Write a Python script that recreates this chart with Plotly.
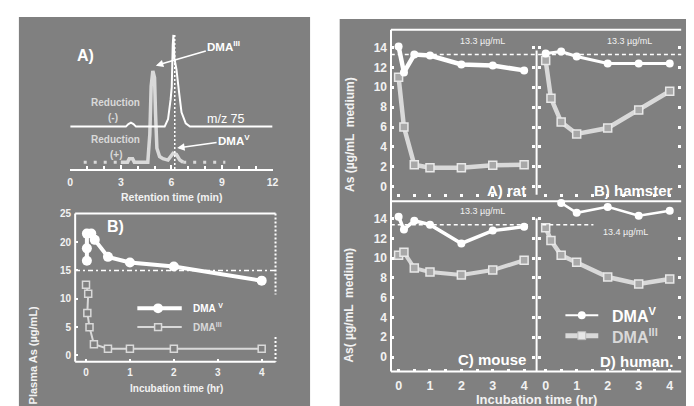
import plotly.graph_objects as go

W, H = 694, 406
BG = "#808080"
LIGHT = "#d9d9d9"
TXT = "#f2f2f2"
FONT = "Liberation Sans, Arial, sans-serif"

# ---------------- Panel A: chromatograms (retention time, min / relative intensity) ----------------
red_minus_t = [0, 3.3, 3.45, 3.6, 3.75, 3.9, 5.6, 5.8, 5.95, 6.02, 6.08, 6.12, 6.18, 6.3, 6.45, 6.6, 6.85, 7.1, 12]
red_minus_i = [30.7, 30.7, 32.5, 33.5, 32.5, 30.7, 30.7, 36, 50, 59, 90, 97, 80, 72, 56, 41, 33, 30.7, 30.7]
red_plus_t = [3.0, 3.4, 3.5, 3.7, 3.8, 4.6, 4.72, 4.8, 4.9, 5.0, 5.06, 5.14, 5.3, 5.5, 5.8, 6.0, 6.1, 6.3, 6.5, 6.7]
red_plus_i = [5, 5, 7.5, 7.5, 5, 5, 25, 60, 71, 66, 40, 15, 9, 7.5, 6.5, 10, 11.4, 10.5, 6.5, 5]
red_plus_base_t = [0.8, 3.0, None, 6.7, 9.2]
red_plus_base_i = [5, 5, None, 5, 5]
dma3_rt = [6.2, 6.2]
dma3_rt_i = [0, 97]
a_ticks = [0, 3, 6, 9, 12]

# ---------------- Panel B: plasma (incubation time, hr / ug/mL) ----------------
b_dmav_t = [0.02, 0.02, 0.02, 0.12, 0.2, 0.5, 1.0, 2.0, 4.0]
b_dmav_y = [16.7, 18.9, 21.5, 21.5, 20.4, 17.4, 16.4, 15.7, 13.2]
b_dma3_t = [0.0, 0.05, 0.03, 0.08, 0.18, 0.5, 1.0, 2.0, 4.0]
b_dma3_y = [12.5, 10.9, 7.5, 5.0, 2.0, 1.2, 1.2, 1.2, 1.2]
b_ref = 15
b_xticks = [0, 1, 2, 3, 4]
b_yticks = [0, 5, 10, 15, 20, 25]

# ---------------- Right panels: hepatocyte medium ----------------
t7 = [0, 0.17, 0.5, 1, 2, 3, 4]
rat_v = [14.1, 11.5, 13.3, 13.2, 12.3, 12.2, 11.7]
rat_iii = [11.0, 6.0, 2.2, 1.9, 1.9, 2.15, 2.2]
ham_v_t = [0, 0.5, 1, 2, 3, 4]
ham_v = [13.4, 13.6, 13.1, 12.4, 12.4, 12.4]
ham_iii = [12.7, 8.9, 6.5, 5.3, 5.9, 7.7, 9.6]
mou_v = [14.2, 12.9, 13.8, 13.4, 11.5, 12.8, 13.2]
mou_iii = [10.3, 10.6, 9.0, 8.6, 8.3, 8.8, 9.8]
hum_v_t = [0.5, 1, 2, 3, 4]
hum_v = [15.6, 14.6, 15.2, 14.3, 14.8]
hum_iii = [13.1, 11.8, 10.3, 9.6, 8.1, 7.4, 7.9]
ref_rat, ref_ham, ref_mou, ref_hum = 13.3, 13.3, 13.4, 13.4
r_xticks = [0, 1, 2, 3, 4]
r_xminor = [0, 0.5, 1, 1.5, 2, 2.5, 3, 3.5, 4]
r_yticks = [0, 2, 4, 6, 8, 10, 12, 14]


def fx(px):
    return px / W


def fy(py):
    return 1 - py / H


def tf(size, color=TXT):
    return dict(family=FONT, size=size, color=color, weight="bold")


fig = go.Figure()

# Panel A traces
fig.add_trace(go.Scatter(x=red_plus_base_t, y=red_plus_base_i, mode="lines",
                         line=dict(color=LIGHT, width=3, dash="3px,7px"), xaxis="x", yaxis="y"))
fig.add_trace(go.Scatter(x=red_plus_t, y=red_plus_i, mode="lines",
                         line=dict(color=LIGHT, width=3.5), xaxis="x", yaxis="y"))
fig.add_trace(go.Scatter(x=red_minus_t, y=red_minus_i, mode="lines",
                         line=dict(color="white", width=2), xaxis="x", yaxis="y"))
fig.add_trace(go.Scatter(x=dma3_rt, y=dma3_rt_i, mode="lines",
                         line=dict(color="white", width=1.5, dash="2px,2px"), xaxis="x", yaxis="y"))

# Panel B traces
fig.add_trace(go.Scatter(x=[-0.25, 4.32], y=[b_ref, b_ref], mode="lines",
                         line=dict(color="white", width=1.5, dash="5px,3px,2px,3px"), xaxis="x2", yaxis="y2"))
fig.add_trace(go.Scatter(x=b_dma3_t, y=b_dma3_y, mode="lines+markers",
                         line=dict(color=LIGHT, width=2),
                         marker=dict(symbol="square", size=7, color=BG, line=dict(color=LIGHT, width=1.5)),
                         cliponaxis=False, xaxis="x2", yaxis="y2"))
fig.add_trace(go.Scatter(x=b_dmav_t, y=b_dmav_y, mode="lines+markers",
                         line=dict(color="white", width=4),
                         marker=dict(symbol="circle", size=10, color="white"),
                         cliponaxis=False, xaxis="x2", yaxis="y2"))

# Right panels
panels = [
    ("x3", "y3", t7, rat_iii, t7, rat_v, 4.5, 4.5),
    ("x4", "y4", t7, ham_iii, ham_v_t, ham_v, 4.5, 3),
    ("x5", "y5", t7, mou_iii, t7, mou_v, 4, 3.5),
    ("x6", "y6", t7, hum_iii, hum_v_t, hum_v, 4.5, 2.5),
]
for xa, ya, ti, yi, tv, yv, w3, wv in panels:
    fig.add_trace(go.Scatter(x=ti, y=yi, mode="lines+markers",
                             line=dict(color=LIGHT, width=w3),
                             marker=dict(symbol="square", size=8, color="#a8a8a8", line=dict(color="#e8e8e8", width=1.5)),
                             cliponaxis=False, xaxis=xa, yaxis=ya))
    fig.add_trace(go.Scatter(x=tv, y=yv, mode="lines+markers",
                             line=dict(color="white", width=wv),
                             marker=dict(symbol="circle", size=8, color="white"),
                             cliponaxis=False, xaxis=xa, yaxis=ya))

# reference dashed lines (13.3 / 13.4 ug/mL)
dash_ref = dict(color="white", width=1.5, dash="4px,3px")
fig.add_trace(go.Scatter(x=[-0.25, 4.4], y=[ref_rat, ref_rat], mode="lines", line=dash_ref, xaxis="x3", yaxis="y3"))
fig.add_trace(go.Scatter(x=[-0.25, 4.4], y=[ref_ham, ref_ham], mode="lines", line=dash_ref, xaxis="x4", yaxis="y4"))
fig.add_trace(go.Scatter(x=[-0.25, 4.2], y=[ref_mou, ref_mou], mode="lines", line=dash_ref, xaxis="x5", yaxis="y5"))
fig.add_trace(go.Scatter(x=[-0.11, 1.54], y=[ref_hum, ref_hum], mode="lines", line=dash_ref, xaxis="x6", yaxis="y6"))

common = dict(showgrid=False, zeroline=False, fixedrange=True)
tick_in = dict(ticks="inside", tickcolor="white")

layout = dict(
    width=W, height=H, margin=dict(l=0, r=0, t=0, b=0),
    paper_bgcolor="white", plot_bgcolor="rgba(0,0,0,0)", showlegend=False,
    # Panel A
    xaxis=dict(domain=[fx(60), fx(265)], range=[0, 12], anchor="y", showline=True, linecolor="white",
               linewidth=2, tickvals=a_ticks, ticklen=4, tickwidth=1.5, tickfont=tf(10.5),
               ticklabelstandoff=2,
               minor=dict(tickvals=list(range(13)), ticks="inside", ticklen=3, tickcolor="white", tickwidth=1.5),
               **tick_in, **common),
    yaxis=dict(domain=[fy(158), fy(18)], range=[0, 100], anchor="x", visible=False, **common),
    # Panel B
    xaxis2=dict(domain=[fx(65), fx(268)], range=[-0.247, 4.315], anchor="y2", showline=False,
                tickvals=b_xticks, ticklen=3, tickwidth=2, tickfont=tf(10), ticklabelstandoff=3,
                **tick_in, **common),
    yaxis2=dict(domain=[fy(353), fy(203)], range=[-1.09, 25.05], anchor="x2", showline=False,
                tickvals=b_yticks, ticklen=3, tickwidth=2, tickfont=tf(10), ticklabelstandoff=3,
                **tick_in, **common),
    # rat
    xaxis3=dict(domain=[fx(385), fx(531)], range=[-0.242, 4.35], anchor="y3", showline=False,
                tickvals=r_xminor, showticklabels=False, ticklen=3, tickwidth=2.5, **tick_in, **common),
    yaxis3=dict(domain=[fy(186), fy(17)], range=[-1.02, 15.79], anchor="x3", showline=False,
                tickvals=r_yticks, ticklen=3, tickwidth=2.5, mirror="ticks", tickfont=tf(12),
                ticklabelstandoff=3, **tick_in, **common),
    # hamster
    xaxis4=dict(domain=[fx(534), fx(679)], range=[-0.245, 4.37], anchor="y4", showline=False,
                tickvals=r_xminor, showticklabels=False, ticklen=3, tickwidth=2.5, **tick_in, **common),
    yaxis4=dict(domain=[fy(186), fy(17)], range=[-1.02, 15.79], anchor="x4", showline=False,
                tickvals=r_yticks, ticklen=3, tickwidth=2.5, mirror="ticks", showticklabels=False,
                **tick_in, **common),
    # mouse
    xaxis5=dict(domain=[fx(385), fx(531)], range=[-0.242, 4.35], anchor="y5", showline=False,
                tickvals=r_xticks, ticklen=3, tickwidth=2.5, tickfont=tf(12.5), ticklabelstandoff=5,
                minor=dict(tickvals=r_xminor, ticks="inside", ticklen=3, tickwidth=2.5, tickcolor="white"),
                **tick_in, **common),
    yaxis5=dict(domain=[fy(363), fy(191)], range=[-1.47, 15.73], anchor="x5", showline=False,
                tickvals=r_yticks, ticklen=3, tickwidth=2.5, mirror="ticks", tickfont=tf(12),
                ticklabelstandoff=3, **tick_in, **common),
    # human
    xaxis6=dict(domain=[fx(534), fx(679)], range=[-0.245, 4.37], anchor="y6", showline=False,
                tickvals=r_xticks, ticklen=3, tickwidth=2.5, tickfont=tf(12.5), ticklabelstandoff=5,
                minor=dict(tickvals=r_xminor, ticks="inside", ticklen=3, tickwidth=2.5, tickcolor="white"),
                **tick_in, **common),
    yaxis6=dict(domain=[fy(363), fy(191)], range=[-1.47, 15.73], anchor="x6", showline=False,
                tickvals=r_yticks, ticklen=3, tickwidth=2.5, mirror="ticks", showticklabels=False,
                **tick_in, **common),
)
fig.update_layout(**layout)

shapes = []


def rect(x0, y0, x1, y1, color):
    shapes.append(dict(type="rect", xref="paper", yref="paper", x0=fx(x0), x1=fx(x1), y0=fy(y1), y1=fy(y0),
                       fillcolor=color, line=dict(width=0), layer="below"))


def seg(x0, y0, x1, y1, color="white", width=2, dash=None):
    ln = dict(color=color, width=width)
    if dash:
        ln["dash"] = dash
    shapes.append(dict(type="line", xref="paper", yref="paper", x0=fx(x0), x1=fx(x1), y0=fy(y0), y1=fy(y1),
                       line=ln))


rect(8, 4, 303, 406, BG)
rect(333, 6, 694, 406, BG)

# Panel B frame
seg(65, 203, 268, 203)
seg(65, 203, 65, 353)
seg(65, 353, 268, 353)
seg(268, 203, 268, 285, dash="2px,2px")
seg(268, 328, 268, 353, dash="2px,2px")

# right frame
seg(385, 17, 679, 17)
seg(385, 17, 385, 363)
seg(385, 190.5, 679, 190.5)
seg(385, 363, 679, 363)
seg(532.5, 38, 532.5, 184)
seg(532.5, 208, 532.5, 363)

# legend samples (B)
seg(128, 299, 173, 299, width=4)
shapes.append(dict(type="circle", xref="paper", yref="paper", x0=fx(144), x1=fx(154), y0=fy(304), y1=fy(294),
                   fillcolor="white", line=dict(width=0)))
seg(128, 318, 173, 318, color=LIGHT, width=2)
shapes.append(dict(type="rect", xref="paper", yref="paper", x0=fx(145.5), x1=fx(152.5), y0=fy(321.5), y1=fy(314.5),
                   fillcolor=BG, line=dict(color=LIGHT, width=1.5)))
# legend samples (right)
seg(561.7, 306, 595, 306, width=2)
shapes.append(dict(type="circle", xref="paper", yref="paper", x0=fx(574.3), x1=fx(582.3), y0=fy(310), y1=fy(302),
                   fillcolor="white", line=dict(width=0)))
seg(561.7, 326.7, 595, 326.7, color=LIGHT, width=5)
shapes.append(dict(type="rect", xref="paper", yref="paper", x0=fx(574.3), x1=fx(582.3), y0=fy(330.7), y1=fy(322.7),
                   fillcolor="#e6e6e6", line=dict(color="#bdbdbd", width=1)))

fig.update_layout(shapes=shapes)

ann = []


def txt(px, py, text, size, color=TXT, bold=True, xanchor="center", yanchor="middle", angle=0, **kw):
    f = dict(family=FONT, size=size, color=color)
    if bold:
        f["weight"] = "bold"
    d = dict(x=fx(px), y=fy(py), xref="paper", yref="paper", text=text, showarrow=False, font=f,
             xanchor=xanchor, yanchor=yanchor, textangle=angle)
    d.update(kw)
    ann.append(d)


# Panel A
txt(75, 43, "A)", 16, color="white")
txt(106, 91, "Reduction", 10, color=LIGHT)
txt(103, 106, "(-)", 10, color=LIGHT)
txt(106, 128, "Reduction", 10, color=LIGHT)
txt(107, 143, "(+)", 10, color=LIGHT)
txt(218, 107, "m/z 75", 12.5, color="white", bold=False)
txt(163, 186, "Retention time (min)", 10.5)
ann.append(dict(x=fx(146.7), y=fy(53.3), xref="paper", yref="paper", text="DMA<sup>III</sup>",
                showarrow=True, ax=68, ay=-20, arrowhead=2, arrowsize=1, arrowwidth=1.5, arrowcolor="white",
                standoff=0, font=dict(family=FONT, size=11.5, color="white", weight="bold")))
ann.append(dict(x=fx(168.3), y=fy(136.7), xref="paper", yref="paper", text="DMA<sup>V</sup>",
                showarrow=True, ax=57, ay=-8, arrowhead=2, arrowsize=1, arrowwidth=1.5, arrowcolor="white",
                standoff=0, font=dict(family=FONT, size=11.5, color="white", weight="bold")))

# Panel B
txt(106, 216, "B)", 16, color="white")
txt(182, 299, "DMA <sup>V</sup>", 10, color="white", xanchor="left")
txt(182, 318, "DMA<sup>III</sup>", 10, color=LIGHT, xanchor="left")
txt(168, 380, "Incubation time (hr)", 10)
txt(22, 346, "Plasma As (µg/mL)", 11, angle=-90)

# Right panels
txt(477.7, 28, "13.3 µg/mL", 9, bold=False)
txt(626.7, 28, "13.3 µg/mL", 9, bold=False)
txt(478, 200.7, "13.3 µg/mL", 9, bold=False)
txt(623, 222, "13.4 µg/mL", 9, bold=False)
txt(501.7, 180, "A) rat", 15, color="white")
txt(630.7, 180, "B) hamster", 15, color="white")
txt(487.3, 350.7, "C) mouse", 15, color="white")
txt(633.3, 353, "D) human.", 15, color="white")
txt(606.7, 306, "DMA<sup>V</sup>", 16, color="white", xanchor="left")
txt(606.7, 327, "DMA<sup>III</sup>", 16, color=LIGHT, xanchor="left")
txt(343.3, 122.6, "As (µg/mL  medium)", 12, angle=-90)
txt(342.7, 296, "As( µg/mL  medium)", 12, angle=-90)
txt(532.3, 391, "Incubation time (hr)", 13)

fig.update_layout(annotations=ann)
fig.write_html("out.html")
